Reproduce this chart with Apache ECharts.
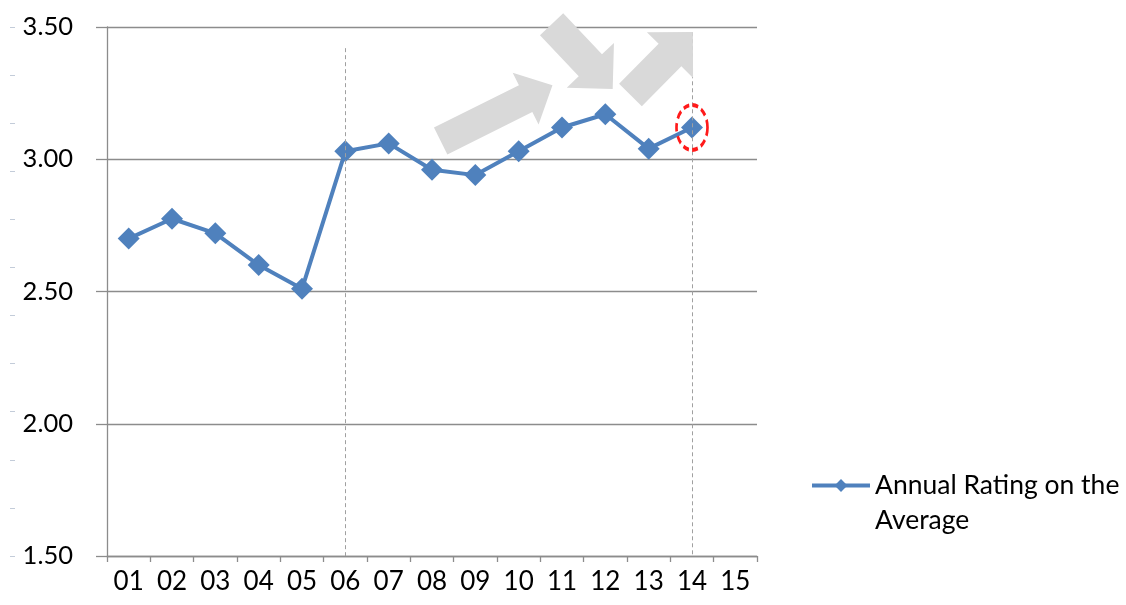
<!DOCTYPE html>
<html>
<head>
<meta charset="utf-8">
<script src="https://cdn.jsdelivr.net/npm/echarts@6/dist/echarts.min.js"></script>
<style>
html,body{margin:0;padding:0;background:#fff;}
#c{width:1126px;height:605px;}
</style>
</head>
<body>
<div id="c"></div>
<script>
// ---- data ----
const categories = ['01','02','03','04','05','06','07','08','09','10','11','12','13','14','15'];
const ratings = [2.70, 2.775, 2.72, 2.60, 2.51, 3.03, 3.06, 2.96, 2.94, 3.03, 3.12, 3.17, 3.04, 3.12, null];
const seriesName = 'Annual Rating on the Average';
const legendLines = ['Annual Rating on the', 'Average'];
const yTicks = { min: 1.5, max: 3.5, step: 0.5 };
const dividerCategories = ['06', '14'];
const dividerTops = [3.42, 3.48];
const highlightCategory = '14';
const highlightValue = 3.12;
// annotation arrows: [tail (category index, value), tip (category index, value)]
const arrowTails = [[7.2, 3.069], [9.76, 3.51], [11.58, 3.243]];
const arrowTips  = [[9.78, 3.28], [11.17, 3.266], [13.02, 3.481]];

const FONT = 'Lato';
const GRID_COLOR = '#8c8c8c';
const BLUE = '#4f81bd';

const chart = echarts.init(document.getElementById('c'), null, { renderer: 'canvas' });

chart.setOption({
  animation: false,
  backgroundColor: '#ffffff',
  textStyle: { fontFamily: FONT },
  grid: { left: 107, right: 369, top: 27, bottom: 49, containLabel: false },
  legend: {
    data: [seriesName],
    left: 810,
    top: 433,
    padding: 0,
    itemWidth: 58,
    itemHeight: 16,
    // leading empty line keeps the icon level with the first text line
    formatter: function () { return '\n' + legendLines.join('\n'); },
    textStyle: { fontFamily: FONT, fontSize: 26.5, color: '#000', lineHeight: 35 },
    lineStyle: { width: 4 },
    selectedMode: false
  },
  xAxis: {
    type: 'category',
    data: categories,
    boundaryGap: true,
    axisLine: { lineStyle: { color: GRID_COLOR, width: 1.3 } },
    axisTick: { show: true, length: 6, lineStyle: { color: GRID_COLOR, width: 1.3 } },
    axisLabel: { margin: 13, fontSize: 26, color: '#000', fontFamily: FONT, interval: 0 },
    splitLine: { show: false }
  },
  yAxis: [{
    type: 'value',
    min: yTicks.min,
    max: yTicks.max,
    interval: yTicks.step,
    axisLine: { show: true, lineStyle: { color: GRID_COLOR, width: 1.3 } },
    axisTick: { show: true, length: 11, lineStyle: { color: GRID_COLOR, width: 1.3 } },
    axisLabel: { margin: 34, fontSize: 25.5, color: '#000', fontFamily: FONT,
      formatter: function (v) { return v.toFixed(2); } },
    splitLine: { show: true, lineStyle: { color: GRID_COLOR, width: 1.3 } }
  }, {
    type: 'value',
    position: 'left',
    offset: 92,
    min: 0,
    max: 11,
    interval: 1,
    axisLine: { show: false },
    axisTick: { show: true, length: 5, lineStyle: { color: '#c3ccd9', width: 1 } },
    axisLabel: { show: false },
    splitLine: { show: false }
  }],
  series: [{
    name: seriesName,
    type: 'line',
    data: ratings,
    symbol: 'diamond',
    symbolSize: 22,
    lineStyle: { color: BLUE, width: 4 },
    itemStyle: { color: BLUE },
    z: 3,
    markLine: {
      silent: true,
      symbol: ['none', 'none'],
      label: { show: false },
      lineStyle: { color: '#a0a0a0', type: [4, 3], width: 1 },
      data: dividerCategories.map(function (c, i) {
        return [{ xAxis: c, yAxis: dividerTops[i] }, { xAxis: c, yAxis: yTicks.min }];
      })
    },
    markPoint: {
      silent: true,
      symbol: 'circle',
      symbolSize: [31, 45],
      label: { show: false },
      itemStyle: { color: 'rgba(0,0,0,0)', borderColor: '#ff1a1a', borderWidth: 3.2, borderType: [7, 4] },
      data: [{ coord: [highlightCategory, highlightValue] }]
    }
  }]
});

// ---- annotation arrows, placed through the chart's own scales ----
function toPx(pt) {
  const x0 = chart.convertToPixel({ xAxisIndex: 0 }, categories[0]);
  const x1 = chart.convertToPixel({ xAxisIndex: 0 }, categories[1]);
  const y = chart.convertToPixel({ yAxisIndex: 0 }, pt[1]);
  return [x0 + (x1 - x0) * pt[0], y];
}
function arrowPoly(tail, tip, w, h, L) {
  const dx = tip[0] - tail[0], dy = tip[1] - tail[1];
  const len = Math.sqrt(dx * dx + dy * dy);
  const d = [dx / len, dy / len];
  const n = [-d[1], d[0]];
  const B = [tip[0] - d[0] * L, tip[1] - d[1] * L];
  const p = (base, k) => [base[0] + n[0] * k, base[1] + n[1] * k];
  return [p(tail, w), p(B, w), p(B, h), tip, p(B, -h), p(B, -w), p(tail, -w)];
}
const arrowSizes = [[15, 29, 30], [16, 32.5, 32.5], [16, 32.5, 32.5]];
const graphics = arrowTails.map(function (t, i) {
  const s = arrowSizes[i];
  return {
    type: 'polygon',
    z: 10,
    silent: true,
    shape: { points: arrowPoly(toPx(t), toPx(arrowTips[i]), s[0], s[1], s[2]) },
    style: { fill: '#d9d9d9' }
  };
});
chart.setOption({ graphic: graphics });
</script>
</body>
</html>
